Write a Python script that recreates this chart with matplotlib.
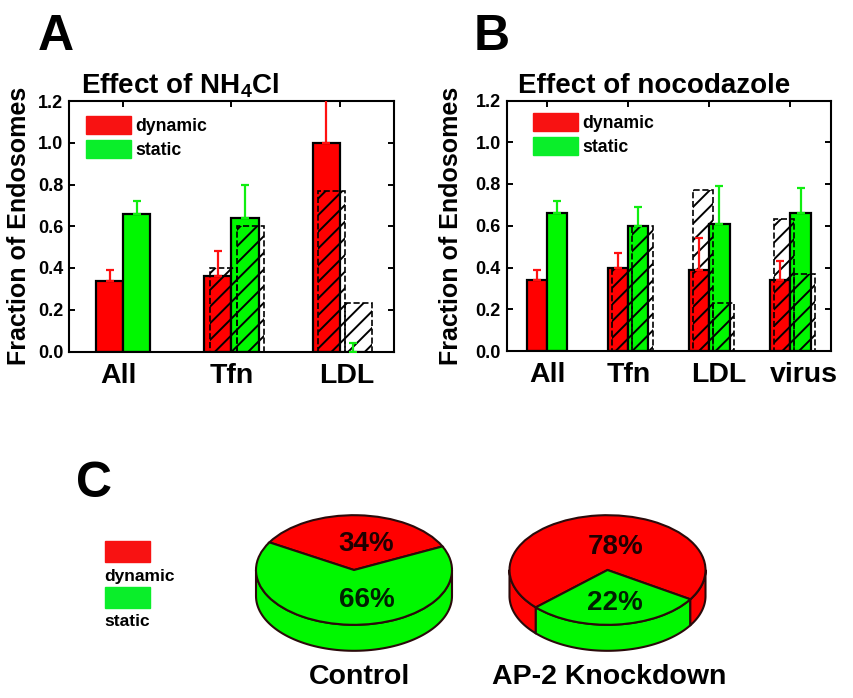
import numpy as np
import matplotlib
matplotlib.use("Agg")
import matplotlib.pyplot as plt
from matplotlib.patches import Patch, Rectangle, Wedge

plt.rcParams['font.family'] = ['Liberation Sans', 'DejaVu Sans']
plt.rcParams['font.weight'] = 'bold'
plt.rcParams['mathtext.fontset'] = 'custom'
plt.rcParams['mathtext.bf'] = 'Liberation Sans:bold'
plt.rcParams['hatch.linewidth'] = 1.4

# panel A, effect of NH4Cl
cats_a = ['All', 'Tfn', 'LDL']
dyn_a = [0.34, 0.36, 1.00]
dyn_top_a = [0.39, 0.48, 1.22]
sta_a = [0.66, 0.64, 0.0]
sta_top_a = [0.72, 0.80, 0.04]
ref_dyn_a = [0.40, 0.77]
ref_sta_a = [0.60, 0.23]

# panel B, effect of nocodazole
cats_b = ['All', 'Tfn', 'LDL', 'virus']
dyn_b = [0.34, 0.40, 0.39, 0.34]
dyn_top_b = [0.39, 0.47, 0.54, 0.43]
sta_b = [0.66, 0.60, 0.61, 0.66]
sta_top_b = [0.72, 0.69, 0.79, 0.78]
ref_dyn_b = [0.40, 0.77, 0.63]
ref_sta_b = [0.60, 0.23, 0.37]

# panel C, percentages and the slice edges as drawn (degrees on the top face)
pie_names = ['Control', 'AP-2 Knockdown']
pie_dyn = [34, 78]
pie_sta = [66, 22]
pie_sta_from = [149.7, 223.0]
pie_sta_to = [385.5, 327.7]

RED = '#ff0000'
GREEN = '#00f800'
LEG_RED = '#f81212'
LEG_GREEN = '#0aee2a'
W, H = 854, 698

fig = plt.figure(figsize=(W / 100, H / 100), dpi=100)


def px_axes(x0, y0, x1, y1):
    return fig.add_axes([x0 / W, 1 - y1 / H, (x1 - x0) / W, (y1 - y0) / H])


def bar_panel(box, cats, dyn, dyn_top, sta, sta_top, ref_dyn, ref_sta, label_shift, title, title_x, legend_xy, ylab_x):
    ax = px_axes(*box)
    x = np.arange(len(cats))
    w = 0.25
    ax.bar(x - w / 2, dyn, w, color=RED, edgecolor='black', linewidth=1.6, zorder=2)
    ax.bar(x + w / 2, sta, w, color=GREEN, edgecolor='black', linewidth=1.6, zorder=2)
    # hatched reference bars, no reference for the first group
    ax.bar(x[1:] - w / 2 + 0.05, ref_dyn, w, facecolor='none', edgecolor='black', hatch='//',
           linewidth=1.2, linestyle='--', zorder=3)
    ax.bar(x[1:] + w / 2 + 0.05, ref_sta, w, facecolor='none', edgecolor='black', hatch='//',
           linewidth=1.2, linestyle='--', zorder=3)
    for xs, vals, tops, col in [(x - w / 2, dyn, dyn_top, '#ff1010'), (x + w / 2, sta, sta_top, '#10ee10')]:
        vals = np.array(vals)
        ax.errorbar(xs, vals, yerr=[np.zeros(len(vals)), np.array(tops) - vals], fmt='none', ecolor=col,
                    elinewidth=1.6, capsize=3, capthick=1.6, zorder=4)
    ax.set_xlim(-0.5, len(cats) - 0.5)
    ax.set_ylim(0, 1.2)
    ax.set_yticks([0, 0.2, 0.4, 0.6, 0.8, 1.0, 1.2])
    ax.set_yticklabels(['0.0', '0.2', '0.4', '0.6', '0.8', '1.0', '1.2'], fontsize=13)
    # tick marks sit on the group centres, the labels are a bit off them
    ax.xaxis.remove_overlapping_locs = False
    ax.set_xticks(x)
    ax.set_xticklabels([])
    ax.set_xticks(x + np.array(label_shift), labels=cats, minor=True, fontsize=20.5)
    ax.tick_params(axis='x', which='minor', length=0, pad=8)
    ax.tick_params(axis='x', which='major', direction='in', length=4, width=1.4, top=True, bottom=False)
    ax.tick_params(axis='y', direction='in', length=4, width=1.4, right=True, pad=4)
    for sp in ax.spines.values():
        sp.set_linewidth(1.5)
    ax.set_ylabel('Fraction of Endosomes', fontsize=18, fontweight='bold')
    ax.yaxis.set_label_coords(ylab_x, 0.5)
    fig.text(title_x / W, 1 - 93 / H, title, fontsize=20, ha='left', va='baseline')
    ax.legend(handles=[Patch(color=LEG_RED, label='dynamic'), Patch(color=LEG_GREEN, label='static')],
              loc='upper left', bbox_to_anchor=(legend_xy[0] / W, 1 - legend_xy[1] / H),
              bbox_transform=fig.transFigure, frameon=False, fontsize=12.7, handlelength=2.55, handleheight=1.15,
              labelspacing=0.3, handletextpad=0.25, borderpad=0, borderaxespad=0)
    return ax


bar_panel((69, 101, 394, 351.5), cats_a, dyn_a, dyn_top_a, sta_a, sta_top_a, ref_dyn_a, ref_sta_a,
          [-0.04, 0.0, 0.06], r'Effect of NH$_{\mathbf{4}}$Cl', 81, (86, 116), -0.117)
bar_panel((506.5, 100.5, 831, 351), cats_b, dyn_b, dyn_top_b, sta_b, sta_top_b, ref_dyn_b, ref_sta_b,
          [0.01, 0.01, 0.115, 0.17], 'Effect of nocodazole', 518, (533, 113), -0.134)

fig.text(38 / W, 1 - 50 / H, 'A', fontsize=36, ha='left', va='baseline')
fig.text(474 / W, 1 - 50 / H, 'B', fontsize=36, ha='left', va='baseline')
fig.text(76 / W, 1 - 497 / H, 'C', fontsize=36, ha='left', va='baseline')

# legend of panel C
fig.patches.append(Rectangle((105 / W, 1 - 562 / H), 45 / W, 21 / H, transform=fig.transFigure, color=LEG_RED))
fig.patches.append(Rectangle((105 / W, 1 - 608 / H), 45 / W, 21 / H, transform=fig.transFigure, color=LEG_GREEN))
fig.text(104 / W, 1 - 581 / H, 'dynamic', fontsize=12.5, ha='left', va='baseline')
fig.text(104 / W, 1 - 626 / H, 'static', fontsize=12.5, ha='left', va='baseline')

# pies: unit circle in data units, the axes squash it into an ellipse
RX, RY, DEPTH = 98, 54.8, 26
EDGE = '#2a0a0a'
depth = DEPTH / RY


def side(ax, a0, a1, col):
    t = np.radians(np.linspace(a0, a1, 80))
    xs = np.r_[np.cos(t), np.cos(t[::-1])]
    ys = np.r_[np.sin(t), np.sin(t[::-1]) - depth]
    ax.fill(xs, ys, facecolor=col, edgecolor=EDGE, linewidth=1.5, joinstyle='round')


for i, cx in enumerate([354, 607.5]):
    ax = px_axes(cx - RX * 1.05, 570 - RY * 1.05, cx + RX * 1.05, 570 + RY * 1.05 + DEPTH)
    ax.set_xlim(-1.05, 1.05)
    ax.set_ylim(-1.05 - depth, 1.05)
    ax.axis('off')
    a0, a1 = pie_sta_from[i], pie_sta_to[i]
    # side wall shows only the lower half of the rim
    low0, low1 = max(a0, 180), min(a1, 360)
    if low0 > 180:
        side(ax, 180, low0, RED)
    side(ax, low0, low1, GREEN)
    if low1 < 360:
        side(ax, low1, 360, RED)
    ax.add_patch(Wedge((0, 0), 1, a1, a0 + 360, facecolor=RED, edgecolor=EDGE, linewidth=1.5))
    ax.add_patch(Wedge((0, 0), 1, a0, a1, facecolor=GREEN, edgecolor=EDGE, linewidth=1.5))
    dy_up = 0.48 if i == 0 else 0.42
    dy_low = -0.55 if i == 0 else -0.6
    ax.text(0.12 if i == 0 else 0.08, dy_up, '%d%%' % pie_dyn[i], fontsize=20, ha='center', va='center', color='#200000')
    ax.text(0.13 if i == 0 else 0.08, dy_low, '%d%%' % pie_sta[i], fontsize=20, ha='center', va='center', color='#002000')
    fig.text(cx / W + (6 / W if i == 0 else 2 / W), 1 - 684 / H, pie_names[i], fontsize=20.5, ha='center', va='baseline')

fig.savefig('out.png', dpi=100)
